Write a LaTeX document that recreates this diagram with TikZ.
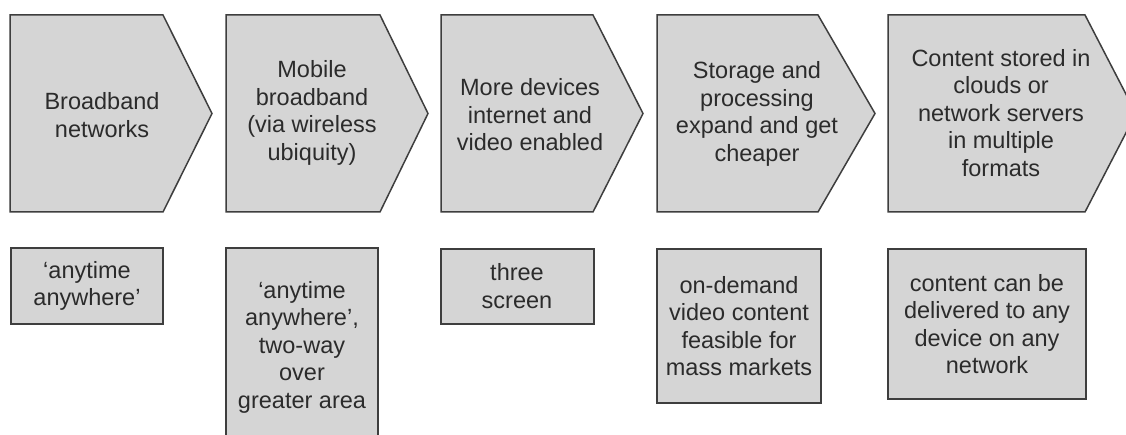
\documentclass[tikz,border=0pt]{standalone}
\usepackage{fontspec}
\setmainfont{Liberation Sans}
\definecolor{boxfill}{HTML}{D5D5D5}
\definecolor{boxedge}{HTML}{3E3E3E}
\definecolor{txt}{HTML}{2B2B2B}
\tikzset{
  grayshape/.style={draw=boxedge, fill=boxfill, line width=1.5pt, line join=miter},
  lbl/.style={align=center, text=txt, inner sep=0pt, font=\fontsize{23.5}{27.5}\selectfont},
}
\newcommand{\chevron}[3]{%
  \draw[grayshape] (#1,15) -- (#2,15) -- (#3,113.5) -- (#2,212) -- (#1,212) -- cycle;}
\begin{document}
\begin{tikzpicture}[x=1pt,y=-1pt]
\useasboundingbox (0,0) rectangle (1126,435);
% chevrons
\chevron{10}{163}{212}
\chevron{226}{380}{428}
\chevron{441}{593}{643}
\chevron{657}{818}{875}
\chevron{888}{1085}{1136}
\node[lbl] (c1) at (102,115) {Broadband\\networks};
\node[lbl] (c2) at (312,113) {Mobile\\broadband\\(via wireless\\ubiquity)};
\node[lbl] (c3) at (530,115) {More devices\\internet and\\video enabled};
\node[lbl] (c4) at (757,114) {Storage and\\processing\\expand and get\\cheaper};
\node[lbl] (c5) at (1001,113) {Content stored in\\clouds or\\network servers\\in multiple\\formats};
% bottom boxes
\draw[grayshape] (11,248) rectangle (163,324);
\draw[grayshape] (226,248) rectangle (378,446);
\draw[grayshape] (441,249) rectangle (594,324);
\draw[grayshape] (657,249) rectangle (821,403);
\draw[grayshape] (888,249) rectangle (1086,399);
\node[lbl] (b1) at (87,286) {‘anytime\\anywhere’};
\node[lbl] (b2) at (302,347) {‘anytime\\anywhere’,\\two-way\\over\\greater area};
\node[lbl] (b3) at (517,286) {three\\screen};
\node[lbl] (b4) at (739,326) {on-demand\\video content\\feasible for\\mass markets};
\node[lbl] (b5) at (987,324) {content can be\\delivered to any\\device on any\\network};
\end{tikzpicture}
\end{document}
